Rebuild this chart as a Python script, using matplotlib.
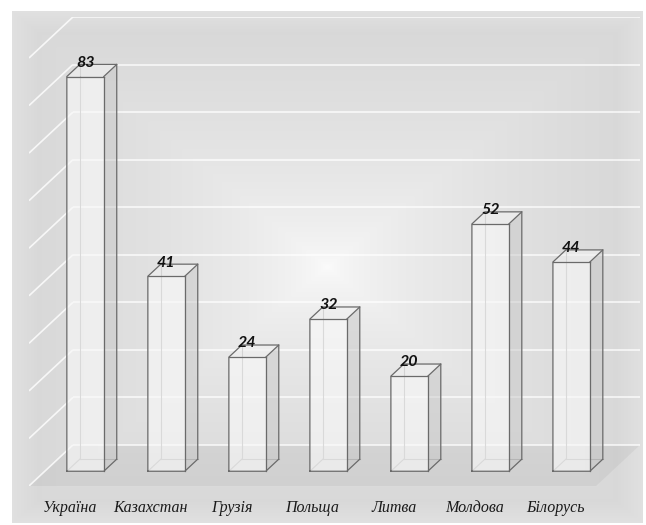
import numpy as np
import matplotlib
matplotlib.use("Agg")
import matplotlib.pyplot as plt
from matplotlib.patches import Polygon

# ---- data ----
categories = ["Україна", "Казахстан", "Грузія", "Польща", "Литва", "Молдова", "Білорусь"]
values = [83, 41, 24, 32, 20, 52, 44]
grid_values = list(range(0, 100, 10))

# ---- figure ----
W, H = 646, 525
fig = plt.figure(figsize=(W / 100, H / 100), dpi=100)
fig.patch.set_facecolor("white")

# background panel with rectangular (path) gradient
bg = fig.add_axes([0, 0, 1, 1])
bg.set_xlim(0, 1)
bg.set_ylim(0, 1)
bg.axis("off")
pl, pr = 12 / W, 643 / W
pb, pt = 1 - 523 / H, 1 - 11 / H
ny, nx = 300, 380
yy, xx = np.mgrid[-1:1:ny * 1j, -1:1:nx * 1j]
d = np.maximum(np.abs(xx), np.abs(yy))
center_c, mid_c, edge_c = 0.99, 0.85, 0.88
t = np.clip(d / 0.92, 0, 1) ** 0.55
g = center_c + (mid_c - center_c) * t
edge = np.clip((d - 0.92) / 0.08, 0, 1)
g = g + (edge_c - mid_c) * edge
rgb = np.dstack([g, g, g])
bg.imshow(rgb, extent=[pl, pr, pb, pt], aspect="auto", interpolation="bilinear", zorder=0)

# ---- main axes with oblique 3D projection ----
n = len(categories)
Dx = 0.542          # depth offset in category units
Dy = 8.62           # depth offset in value units
ymax = 90
ax = fig.add_axes([29 / W, 1 - 486 / H, (640 - 29) / W, (486 - 17) / H])
ax.set_xlim(0, n + Dx)
ax.set_ylim(0, ymax + Dy)
ax.axis("off")
ax.patch.set_alpha(0)


def P(x, y, z):
    return (x + z * Dx, y + z * Dy)


# floor
floor = Polygon([P(0, 0, 0), P(n, 0, 0), P(n, 0, 1), P(0, 0, 1)],
                closed=True, facecolor="black", alpha=0.045, edgecolor="none", zorder=1)
ax.add_patch(floor)

# gridlines on back wall and left wall
for v in grid_values:
    xa, ya = P(0, v, 1)
    xb, yb = P(n, v, 1)
    ax.plot([xa, xb], [ya, yb], color="white", lw=1.2, alpha=0.8, zorder=2,
            solid_capstyle="butt")
    x0, y0 = P(0, v, 0)
    ax.plot([x0, xa], [y0, ya], color="white", lw=1.2, alpha=0.8, zorder=2,
            solid_capstyle="butt")

# bars
bw = 0.456
zf, zb = 0.36, 0.655
edge_col = "#6a6a6a"
hid_col = "#a0a0a0"
for i, v in enumerate(values):
    x0 = i + 0.5 - bw / 2
    x1 = i + 0.5 + bw / 2
    # hidden edges
    for a, b in [((x0, 0, zb), (x0, v, zb)), ((x0, 0, zb), (x1, 0, zb)),
                 ((x0, 0, zf), (x0, 0, zb))]:
        pa, pb_ = P(*a), P(*b)
        ax.plot([pa[0], pb_[0]], [pa[1], pb_[1]], color=hid_col, lw=0.8, zorder=3)
    front = Polygon([P(x0, 0, zf), P(x1, 0, zf), P(x1, v, zf), P(x0, v, zf)],
                    closed=True, facecolor="#f8f8f8", alpha=0.65, edgecolor="none", zorder=4)
    side = Polygon([P(x1, 0, zf), P(x1, 0, zb), P(x1, v, zb), P(x1, v, zf)],
                   closed=True, facecolor="#c8c8c8", alpha=0.5, edgecolor="none", zorder=4)
    top = Polygon([P(x0, v, zf), P(x1, v, zf), P(x1, v, zb), P(x0, v, zb)],
                  closed=True, facecolor="#f0f0f0", alpha=0.65, edgecolor="none", zorder=4)
    for p in (front, side, top):
        ax.add_patch(p)
    outline = [P(x0, 0, zf), P(x1, 0, zf), P(x1, 0, zb), P(x1, v, zb),
               P(x0, v, zb), P(x0, v, zf), P(x0, 0, zf)]
    ox, oy = zip(*outline)
    ax.plot(ox, oy, color=edge_col, lw=0.9, zorder=5)
    for a, b in [((x1, 0, zf), (x1, v, zf)), ((x0, v, zf), (x1, v, zf)),
                 ((x1, v, zf), (x1, v, zb))]:
        pa, pb_ = P(*a), P(*b)
        ax.plot([pa[0], pb_[0]], [pa[1], pb_[1]], color=edge_col, lw=0.9, zorder=5)
    # data label
    lx, _ = P(i + 0.5, v, zf)
    _, ly = P(i + 0.5, v, zb)
    ax.text(lx, ly + 0.35, str(v), ha="center", va="center", fontsize=11.5,
            fontweight="bold", fontstyle="italic", family=["Lato", "DejaVu Sans"],
            color="#111111", zorder=6)

# category labels
for i, c in enumerate(categories):
    ax.text(i + 0.5, -4.6, c, ha="center", va="center", fontsize=11.5,
            fontstyle="italic", family=["Liberation Serif", "DejaVu Serif"],
            color="#1a1a1a", clip_on=False)

fig.savefig("out.png", dpi=100)
